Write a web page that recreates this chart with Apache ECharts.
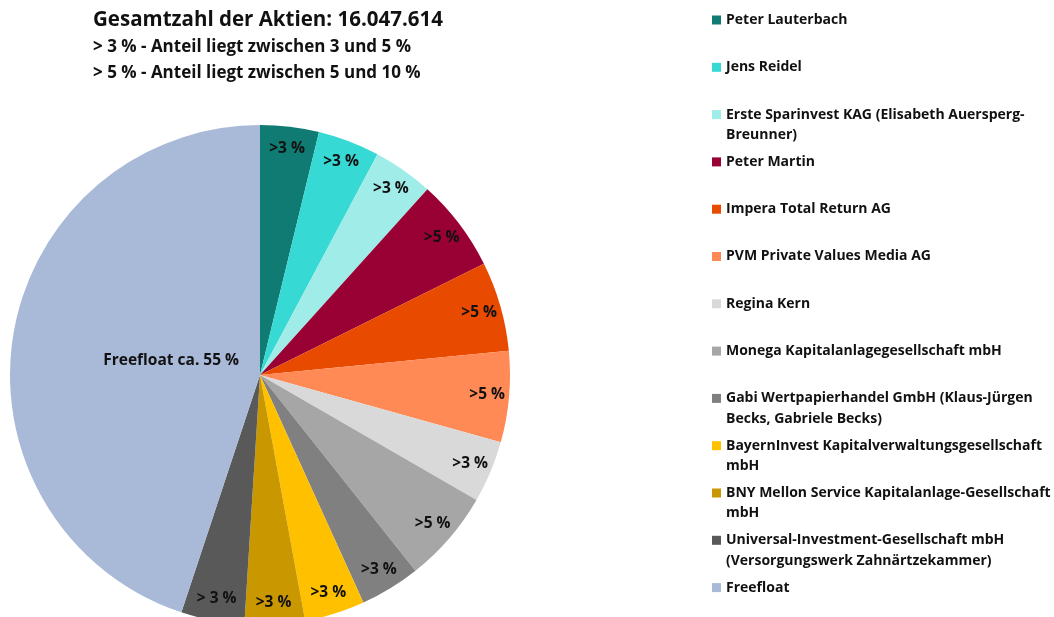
<!DOCTYPE html>
<html>
<head>
<meta charset="utf-8">
<script src="https://cdn.jsdelivr.net/npm/echarts@6/dist/echarts.min.js"></script>
<style>
html,body{margin:0;padding:0;background:#fff;}
#chart{width:1054px;height:617px;}
</style>
</head>
<body>
<div id="chart"></div>
<script>
const categories = [
  'Peter Lauterbach',
  'Jens Reidel',
  'Erste Sparinvest KAG (Elisabeth Auersperg-Breunner)',
  'Peter Martin',
  'Impera Total Return AG',
  'PVM Private Values Media AG',
  'Regina Kern',
  'Monega Kapitalanlagegesellschaft mbH',
  'Gabi Wertpapierhandel GmbH (Klaus-Jürgen Becks, Gabriele Becks)',
  'BayernInvest Kapitalverwaltungsgesellschaft mbH',
  'BNY Mellon Service Kapitalanlage-Gesellschaft mbH',
  'Universal-Investment-Gesellschaft mbH (Versorgungswerk Zahnärtzekammer)',
  'Freefloat'
];
const legendLabels = [
  'Peter Lauterbach',
  'Jens Reidel',
  'Erste Sparinvest KAG (Elisabeth Auersperg-\nBreunner)',
  'Peter Martin',
  'Impera Total Return AG',
  'PVM Private Values Media AG',
  'Regina Kern',
  'Monega Kapitalanlagegesellschaft mbH',
  'Gabi Wertpapierhandel GmbH (Klaus-Jürgen\nBecks, Gabriele Becks)',
  'BayernInvest Kapitalverwaltungsgesellschaft\nmbH',
  'BNY Mellon Service Kapitalanlage-Gesellschaft\nmbH',
  'Universal-Investment-Gesellschaft mbH\n(Versorgungswerk Zahnärtzekammer)',
  'Freefloat'
];
const shares = [3.8, 4.0, 3.9, 6.0, 5.8, 5.9, 4.0, 6.0, 3.9, 3.9, 3.9, 4.1, 45.0];
const sliceLabels = ['>3 %','>3 %','>3 %','>5 %','>5 %','>5 %','>3 %','>5 %','>3 %','>3 %','>3 %','> 3 %','Freefloat ca. 55 %'];
const colors = ['#107B73','#36D9D3','#A0ECE8','#990033','#E84A00','#FF8A55','#D9D9D9','#A6A6A6','#808080','#FFC000','#C99700','#595959','#A9B9D8'];
const titleText = 'Gesamtzahl der Aktien: 16.047.614';
const subLines = ['> 3 % - Anteil liegt zwischen 3 und 5 %', '> 5 % - Anteil liegt zwischen 5 und 10 %'];

const FONT = 'Open Sans';
const labelMap = {};
categories.forEach((c, i) => labelMap[c] = legendLabels[i]);

const center = [260, 375];
const R = 250;
const freeIdx = categories.length - 1;

const mainData = categories.map((c, i) => ({ name: c, value: shares[i], itemStyle: { color: colors[i] } }));
const smallLabelData = categories.map((c, i) => ({
  name: c, value: shares[i],
  label: { show: i !== freeIdx, formatter: sliceLabels[i] }
}));
const freeLabelData = categories.map((c, i) => ({
  name: c, value: shares[i],
  label: { show: i === freeIdx, formatter: sliceLabels[i] }
}));

const labelStyle = { position: 'inside', color: '#111', fontFamily: FONT, fontWeight: 'bold', fontSize: 15.5 };

const LH = 20.5, firstY = 20, pitch = 47.3;
const legends = categories.map((c, i) => {
  const multi = legendLabels[i].indexOf('\n') >= 0;
  const top = firstY + i * pitch - (multi ? 1.5 * LH : LH / 2);
  return {
    data: [c],
    orient: 'vertical',
    left: 712,
    top: top,
    padding: 0,
    itemGap: 0,
    itemWidth: 9,
    itemHeight: 9,
    icon: 'rect',
    selectedMode: false,
    formatter: n => (labelMap[n].indexOf('\n') >= 0 ? ' \n' : '') + labelMap[n],
    textStyle: { fontFamily: FONT, fontWeight: 'bold', fontSize: 14, color: '#111', lineHeight: LH }
  };
});

const chart = echarts.init(document.getElementById('chart'), null, { renderer: 'canvas' });
chart.setOption({
  animation: false,
  backgroundColor: '#fff',
  title: {
    text: titleText,
    subtext: subLines.join('\n'),
    left: 93,
    top: 7,
    padding: 0,
    itemGap: 1,
    textStyle: { fontFamily: FONT, fontWeight: 'bold', fontSize: 20.5, color: '#111', lineHeight: 26 },
    subtextStyle: { fontFamily: FONT, fontWeight: 'bold', fontSize: 17, color: '#111', lineHeight: 26 }
  },
  legend: legends,
  series: [
    {
      type: 'pie', center: center, radius: [0, R], startAngle: 90, clockwise: true,
      silent: true, label: { show: false }, labelLine: { show: false },
      itemStyle: { borderWidth: 0 },
      data: mainData
    },
    {
      type: 'pie', center: center, radius: [R - 50, R], startAngle: 90, clockwise: true,
      silent: true, label: labelStyle, labelLine: { show: false },
      itemStyle: { color: 'rgba(0,0,0,0)', borderWidth: 0 },
      data: smallLabelData
    },
    {
      type: 'pie', center: center, radius: [0, 174], startAngle: 90, clockwise: true,
      silent: true, label: labelStyle, labelLine: { show: false },
      itemStyle: { color: 'rgba(0,0,0,0)', borderWidth: 0 },
      data: freeLabelData
    }
  ]
});
</script>
</body>
</html>
